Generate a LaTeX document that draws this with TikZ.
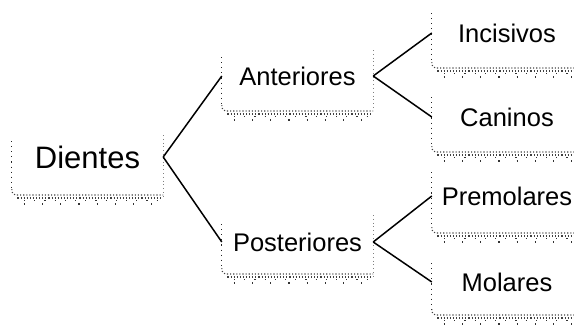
\documentclass[tikz,border=0pt]{standalone}
\usepackage{fontspec}
\setmainfont{Liberation Sans}
\usetikzlibrary{calc}
\tikzset{
  lbl/.style={rectangle, inner sep=0pt, minimum width=151pt, minimum height=0pt,
    text height=18.3pt, text depth=0pt, align=center, font=\fontsize{25.5}{30}\selectfont},
  big/.style={text height=22.2pt, font=\fontsize{31}{36}\selectfont},
  conn/.style={line width=1.5pt, black},
  edgedots/.style={line width=1.1pt, dash pattern=on 1.1pt off 4pt, black!85},
  faintdots/.style={line width=0.8pt, dash pattern=on 0.8pt off 3pt, black!50},
  shade/.style={line width=1.1pt, dash pattern=on 1.1pt off 2pt, black!75},
  sparse/.style={line width=1.2pt, dash pattern=on 1.2pt off 9pt, black!80},
}
\newcommand\leftdeco[3]{%
  \draw[edgedots] ($(#1.west)+(0,-#2)$) -- ($(#1.west)+(0,#3-5)$);
  \draw[shade, rounded corners=4pt] ($(#1.west)+(0,#3-6)$) |- ($(#1.east)+(0,#3)$);
  \draw[shade, dash phase=1.5pt] ($(#1.west)+(4,#3+3)$) -- ($(#1.east)+(-3,#3+3)$);
  \draw[sparse, dash phase=4pt] ($(#1.west)+(6,#3+5.5)$) -- ($(#1.east)+(-4,#3+5.5)$);
  \draw[sparse, dash pattern=on 1.2pt off 17pt] ($(#1.west)+(12,#3+9)$) -- ($(#1.east)+(-6,#3+9)$);
}
\newcommand\rightdeco[3]{%
  \draw[faintdots] ($(#1.east)+(0,-#2)$) -- ($(#1.east)+(0,#3)$);
}
\begin{document}
\begin{tikzpicture}[x=1pt, y=-1pt]
  \useasboundingbox (0,0) rectangle (574,325);
  % nodes
  \node[lbl, big] (dientes) at (87.5,157) {Dientes};
  \node[lbl] (ant) at (297.5,76) {Anteriores};
  \node[lbl] (post) at (297.5,242) {Posteriores};
  \node[lbl, minimum width=150pt] (inc) at (507,33) {Incisivos};
  \node[lbl, minimum width=150pt] (can) at (507,117) {Caninos};
  \node[lbl, minimum width=150pt] (pre) at (507,196) {Premolares};
  \node[lbl, minimum width=150pt] (mol) at (507,282) {Molares};
  % box decorations
  \leftdeco{dientes}{16}{38}
  \rightdeco{dientes}{22}{40}
  \leftdeco{ant}{19}{35}
  \rightdeco{ant}{26}{33}
  \leftdeco{post}{18}{32}
  \rightdeco{post}{27}{35}
  \leftdeco{inc}{20}{35}
  \leftdeco{can}{20}{35}
  \leftdeco{pre}{24}{37}
  \leftdeco{mol}{19}{33}
  % connectors
  \draw[conn] (dientes.east) -- (ant.west);
  \draw[conn] (dientes.east) -- (post.west);
  \draw[conn] (ant.east) -- (inc.west);
  \draw[conn] (ant.east) -- (can.west);
  \draw[conn] (post.east) -- (pre.west);
  \draw[conn] (post.east) -- (mol.west);
\end{tikzpicture}
\end{document}
